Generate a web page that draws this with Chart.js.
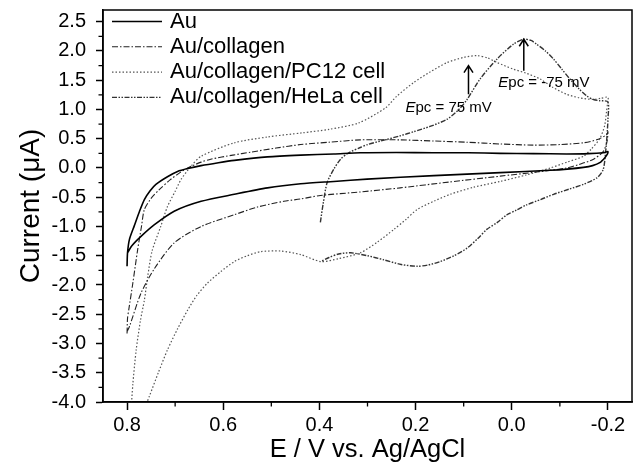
<!DOCTYPE html>
<html><head><meta charset="utf-8">
<script src="https://cdn.jsdelivr.net/npm/chart.js@4/dist/chart.umd.min.js"></script>
<style>html,body{margin:0;padding:0;background:#fff}#wrap{width:635px;height:465px}</style>
</head><body><div id="wrap"><canvas id="c" width="635" height="465"></canvas></div>
<script>
// ---- tick values ----
const xTicks = [0.8, 0.6, 0.4, 0.2, 0.0, -0.2];
const xMinor = [0.7, 0.5, 0.3, 0.1, -0.1];
const yTicks = [-4.0, -3.5, -3.0, -2.5, -2.0, -1.5, -1.0, -0.5, 0.0, 0.5, 1.0, 1.5, 2.0, 2.5];
const yMinor = [-3.75, -3.25, -2.75, -2.25, -1.75, -1.25, -0.75, -0.25, 0.25, 0.75, 1.25, 1.75, 2.25];

// ---- series (E / V, I / uA) ----
const seriesNames = ['Au', 'Au/collagen', 'Au/collagen/PC12 cell', 'Au/collagen/HeLa cell'];

const auE = [0.800, 0.799, 0.795, 0.785, 0.774, 0.764, 0.752, 0.740, 0.716, 0.695, 0.674, 0.646, 0.610, 0.577, 0.508, 0.439, 0.370, 0.315, 0.240, 0.163, 0.090, 0.024, -0.045, -0.114, -0.160, -0.190, -0.200,
             -0.199, -0.194, -0.183, -0.168, -0.149, -0.115, -0.080, 0.024, 0.162, 0.301, 0.370, 0.439, 0.508, 0.577, 0.646, 0.702, 0.743, 0.771, 0.790, 0.799];
const auI = [-1.68, -1.45, -1.22, -0.99, -0.74, -0.54, -0.39, -0.28, -0.15, -0.06, -0.01, 0.04, 0.09, 0.13, 0.19, 0.22, 0.24, 0.26, 0.265, 0.26, 0.26, 0.25, 0.245, 0.24, 0.245, 0.26, 0.28,
             0.24, 0.18, 0.09, 0.04, 0.01, -0.02, -0.04, -0.08, -0.13, -0.19, -0.23, -0.27, -0.34, -0.45, -0.57, -0.74, -0.97, -1.17, -1.33, -1.45];

const colE = [0.800, 0.799, 0.796, 0.788, 0.778, 0.770, 0.764, 0.750, 0.733, 0.710, 0.690, 0.674, 0.646, 0.626, 0.580, 0.543, 0.490, 0.439, 0.380, 0.315, 0.232, 0.160, 0.093, 0.024, -0.045, -0.100, -0.149, -0.180, -0.197, -0.200,
              -0.198, -0.190, -0.170, -0.140, -0.114, -0.050, 0.024, 0.130, 0.232, 0.315, 0.398, 0.439, 0.474, 0.530, 0.577, 0.646, 0.702, 0.743, 0.771, 0.795, 0.800];
const colI = [-2.83, -2.57, -2.40, -1.97, -1.40, -1.00, -0.71, -0.52, -0.37, -0.20, -0.08, 0.00, 0.10, 0.15, 0.22, 0.27, 0.34, 0.40, 0.44, 0.48, 0.48, 0.46, 0.44, 0.41, 0.39, 0.40, 0.43, 0.49, 0.57, 0.62,
              0.45, 0.28, 0.15, 0.06, 0.00, -0.07, -0.14, -0.24, -0.34, -0.41, -0.47, -0.53, -0.57, -0.67, -0.80, -1.00, -1.28, -1.72, -2.14, -2.71, -2.80];

const pcE = [0.768, 0.754, 0.735, 0.716, 0.695, 0.674, 0.655, 0.633, 0.605, 0.577, 0.550, 0.522, 0.480, 0.439, 0.397, 0.360, 0.315, 0.280, 0.245, 0.220, 0.197, 0.160, 0.128, 0.080, 0.024, -0.030, -0.080, -0.115, -0.149, -0.165, -0.183, -0.193, -0.197, -0.199, -0.200,
             -0.185, -0.169, -0.140, -0.114, -0.085, -0.059, -0.030, -0.003, 0.030, 0.050, 0.073, 0.100, 0.135, 0.170, 0.204, 0.240, 0.262, 0.318, 0.380, 0.436, 0.508, 0.577, 0.646, 0.667, 0.688, 0.700, 0.716, 0.730, 0.748, 0.757, 0.764, 0.772, 0.781, 0.788, 0.792];
const pcI = [-4.20, -3.91, -3.50, -3.11, -2.75, -2.43, -2.18, -1.97, -1.77, -1.60, -1.50, -1.43, -1.42, -1.48, -1.60, -1.55, -1.45, -1.27, -1.05, -0.88, -0.71, -0.56, -0.45, -0.33, -0.23, -0.12, 0.00, 0.10, 0.20, 0.32, 0.50, 0.72, 0.96, 1.10, 1.21,
             1.19, 1.17, 1.20, 1.26, 1.38, 1.52, 1.62, 1.69, 1.80, 1.88, 1.92, 1.89, 1.80, 1.64, 1.46, 1.22, 1.03, 0.77, 0.66, 0.60, 0.53, 0.43, 0.20, 0.03, -0.20, -0.40, -0.66, -1.00, -1.42, -1.85, -2.26, -2.60, -3.11, -3.70, -4.20];

const helaE = [0.398, 0.392, 0.384, 0.370, 0.356, 0.339, 0.315, 0.300, 0.273, 0.232, 0.204, 0.170, 0.135, 0.110, 0.093, 0.066, 0.031, -0.004, -0.024, -0.040, -0.051, -0.070, -0.087, -0.104, -0.121, -0.140, -0.156, -0.170, -0.183, -0.200,
               -0.200, -0.198, -0.195, -0.190, -0.177, -0.149, -0.120, -0.087, -0.060, -0.031, -0.010, 0.010, 0.030, 0.052, 0.070, 0.093, 0.120, 0.149, 0.175, 0.197, 0.230, 0.266, 0.300, 0.335, 0.360, 0.380, 0.397];
const helaI = [-0.93, -0.60, -0.25, -0.02, 0.15, 0.26, 0.35, 0.40, 0.46, 0.55, 0.62, 0.71, 0.83, 1.00, 1.17, 1.52, 1.86, 2.12, 2.20, 2.18, 2.12, 2.00, 1.86, 1.69, 1.52, 1.35, 1.23, 1.17, 1.15, 1.13,
               0.83, 0.55, 0.26, -0.03, -0.17, -0.28, -0.36, -0.45, -0.54, -0.63, -0.72, -0.80, -0.93, -1.05, -1.20, -1.37, -1.50, -1.60, -1.66, -1.68, -1.65, -1.57, -1.50, -1.45, -1.47, -1.53, -1.60];

// ---- annotations ----
const arrowE = [0.090, -0.025];
const arrowFromI = [1.26, 1.66];
const arrowToI = [1.75, 2.20];
const noteE = [0.221, 0.028];
const noteI = [1.03, 1.46];
const noteRest = ['pc = 75 mV', 'pc = -75 mV'];

const pts = (E, I) => E.map((e, i) => ({x: e, y: I[i]}));

const styles = [
  {color: '#000000', width: 1.6, dash: []},
  {color: '#222222', width: 1.1, dash: [6, 2, 1.5, 2]},
  {color: '#555555', width: 1.2, dash: [1.5, 2]},
  {color: '#333333', width: 1.4, dash: [5, 1.5, 1.5, 1.5, 1.5, 1.5]}
];
const allE = [auE, colE, pcE, helaE];
const allI = [auI, colI, pcI, helaI];

const datasets = seriesNames.map((n, k) => ({
  label: n,
  data: pts(allE[k], allI[k]),
  showLine: true,
  borderColor: styles[k].color,
  borderWidth: styles[k].width,
  borderDash: styles[k].dash,
  pointRadius: 0,
  tension: 0.25,
  fill: false
}));

const FONT = '"Liberation Sans", Arial, sans-serif';

const extras = {
  id: 'extras',
  afterDraw(chart) {
    const {ctx, chartArea: a, scales: {x, y}} = chart;
    ctx.save();
    // frame
    ctx.strokeStyle = '#000'; ctx.lineWidth = 1.5; ctx.setLineDash([]);
    ctx.strokeRect(a.left, a.top, a.right - a.left, a.bottom - a.top);
    // minor ticks
    ctx.lineWidth = 1.3;
    ctx.beginPath();
    xMinor.forEach(v => { const px = x.getPixelForValue(v); ctx.moveTo(px, a.bottom); ctx.lineTo(px, a.bottom + 4.5); });
    yMinor.forEach(v => { const py = y.getPixelForValue(v); ctx.moveTo(a.left, py); ctx.lineTo(a.left - 4.5, py); });
    ctx.stroke();
    // arrows
    ctx.lineWidth = 1.5;
    arrowE.forEach((e, i) => {
      const px = x.getPixelForValue(e);
      const y0 = y.getPixelForValue(arrowFromI[i]);
      const y1 = y.getPixelForValue(arrowToI[i]);
      ctx.beginPath();
      ctx.moveTo(px, y0); ctx.lineTo(px, y1);
      ctx.moveTo(px - 4.5, y1 + 7); ctx.lineTo(px, y1); ctx.lineTo(px + 4.5, y1 + 7);
      ctx.stroke();
    });
    // notes
    ctx.fillStyle = '#000';
    ctx.textBaseline = 'middle'; ctx.textAlign = 'left';
    noteE.forEach((e, i) => {
      const px = x.getPixelForValue(e);
      const py = y.getPixelForValue(noteI[i]);
      ctx.font = 'italic 15px ' + FONT;
      ctx.fillText('E', px, py);
      const w = ctx.measureText('E').width;
      ctx.font = '15px ' + FONT;
      ctx.fillText(noteRest[i], px + w, py);
    });
    // legend
    const lx0 = 112, lx1 = 162, tx = 170, ly0 = 21.5, dy = 25.3;
    ctx.font = '22px ' + FONT;
    seriesNames.forEach((n, k) => {
      const ly = ly0 + k * dy;
      ctx.strokeStyle = styles[k].color;
      ctx.lineWidth = styles[k].width;
      ctx.setLineDash(styles[k].dash);
      ctx.beginPath(); ctx.moveTo(lx0, ly); ctx.lineTo(lx1, ly); ctx.stroke();
      ctx.setLineDash([]);
      ctx.fillText(n, tx, ly);
    });
    ctx.restore();
  }
};

new Chart(document.getElementById('c'), {
  type: 'scatter',
  data: {datasets},
  options: {
    responsive: false,
    animation: false,
    devicePixelRatio: 1,
    layout: {padding: {top: 10, right: 3, left: 0, bottom: 0}},
    plugins: {legend: {display: false}, tooltip: {enabled: false}},
    scales: {
      x: {
        type: 'linear', position: 'bottom', reverse: true, min: -0.25, max: 0.85,
        afterBuildTicks: s => { s.ticks = xTicks.map(v => ({value: v})); },
        afterFit: s => { s.height = 63; s.paddingLeft = 0; s.paddingRight = 0; },
        ticks: {font: {family: FONT, size: 20}, color: '#000', padding: 3, maxRotation: 0, autoSkip: false,
                callback: v => Number(v).toFixed(1)},
        grid: {drawOnChartArea: false, tickLength: 8, tickColor: '#000', tickWidth: 1.5},
        border: {color: '#000', width: 1.5},
        title: {display: true, text: 'E / V vs. Ag/AgCl', font: {family: FONT, size: 25.5}, color: '#000', padding: {top: 0, bottom: 0}}
      },
      y: {
        type: 'linear', min: -4.0, max: 2.7,
        afterBuildTicks: s => { s.ticks = yTicks.map(v => ({value: v})); },
        afterFit: s => { s.width = 103; s.paddingTop = 0; s.paddingBottom = 0; },
        ticks: {font: {family: FONT, size: 20}, color: '#000', padding: 10, autoSkip: false,
                callback: v => Number(v).toFixed(1)},
        grid: {drawOnChartArea: false, tickLength: 7, tickColor: '#000', tickWidth: 1.5},
        border: {color: '#000', width: 1.5},
        title: {display: true, text: 'Current (μA)', font: {family: FONT, size: 28}, color: '#000', padding: {top: 14, bottom: 0}}
      }
    }
  },
  plugins: [extras]
});
</script>
</body></html>
